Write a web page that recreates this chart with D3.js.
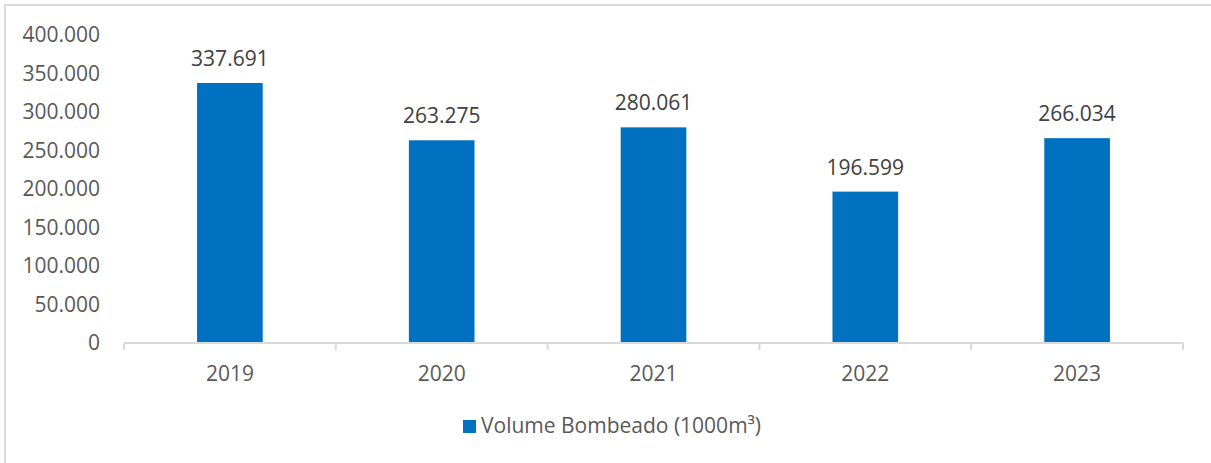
<!DOCTYPE html>
<html>
<head>
<meta charset="utf-8">
<script src="https://cdn.jsdelivr.net/npm/d3@7"></script>
<style>
  body { margin: 0; background: #fff; }
  svg text { font-family: 'Open Sans', sans-serif; }
</style>
</head>
<body>
<div id="graf"></div>
<script>
// I. Datos
anos = ['2019', '2020', '2021', '2022', '2023']
volume = [337691, 263275, 280061, 196599, 266034]
yTicks = [0, 50000, 100000, 150000, 200000, 250000, 300000, 350000, 400000]
serie = 'Volume Bombeado (1000m³)'

data = anos.map((a, i) => ({ ano: a, valor: volume[i] }))

// II. Configuración
ancho_total = 1211
alto_total = 463
margins = { top: 35, left: 124, right: 28, bottom: 120 }
ancho = ancho_total - margins.left - margins.right
alto = alto_total - margins.top - margins.bottom

fmt = d => d3.format(',')(d).replace(/,/g, '.')

svg = d3.select('#graf').append('svg')
        .attr('width', ancho_total)
        .attr('height', alto_total)

// borde del gráfico
svg.append('rect')
   .attr('x', 5).attr('y', 5)
   .attr('width', ancho_total + 10).attr('height', alto_total + 10)
   .attr('fill', 'none')
   .attr('stroke', '#d9d9d9')
   .attr('stroke-width', 2)

g = svg.append('g')
       .attr('transform', `translate(${ margins.left }, ${ margins.top })`)

y = d3.scaleLinear()
      .domain([0, 400000])
      .range([alto, 0])

x = d3.scaleBand()
      .domain(anos)
      .range([0, ancho])
      .paddingInner(0.69)
      .paddingOuter(0.345)

xCat = d3.scaleBand().domain(anos).range([0, ancho])

// III. Ejes
yAxisGroup = g.append('g')
  .call(d3.axisLeft(y).tickValues(yTicks).tickFormat(fmt).tickSize(0).tickPadding(24))
yAxisGroup.select('.domain').remove()
yAxisGroup.selectAll('text')
  .style('font-size', '21px')
  .attr('fill', '#595959')

// barras
g.selectAll('rect.val')
  .data(data)
  .enter()
  .append('rect')
    .attr('class', 'val')
    .attr('x', d => x(d.ano))
    .attr('y', d => y(d.valor))
    .attr('width', x.bandwidth())
    .attr('height', d => alto - y(d.valor))
    .attr('fill', '#0070c0')

// eje x con marcas entre categorías
xAxisGroup = g.append('g')
  .attr('transform', `translate(0, ${ alto })`)
xAxisGroup.append('line')
  .attr('x1', 0).attr('x2', ancho)
  .attr('stroke', '#d9d9d9').attr('stroke-width', 2)
xAxisGroup.selectAll('line.tick')
  .data(anos.concat(['fin']))
  .enter()
  .append('line')
    .attr('class', 'tick')
    .attr('x1', d => d == 'fin' ? ancho : xCat(d))
    .attr('x2', d => d == 'fin' ? ancho : xCat(d))
    .attr('y1', 0).attr('y2', 7)
    .attr('stroke', '#d9d9d9').attr('stroke-width', 2)
xAxisGroup.selectAll('text')
  .data(anos)
  .enter()
  .append('text')
    .attr('x', d => xCat(d) + xCat.bandwidth() / 2)
    .attr('y', 38)
    .attr('text-anchor', 'middle')
    .style('font-size', '21px')
    .attr('fill', '#595959')
    .text(d => d)

// etiquetas de valores
g.selectAll('text.etiqueta')
  .data(data)
  .enter()
  .append('text')
    .attr('class', 'etiqueta')
    .attr('x', d => x(d.ano) + x.bandwidth() / 2)
    .attr('y', d => y(d.valor) - 17)
    .attr('text-anchor', 'middle')
    .style('font-size', '21px')
    .attr('fill', '#404040')
    .text(d => fmt(d.valor))

// leyenda
leyenda = svg.append('g')
  .attr('transform', 'translate(463, 420)')
leyenda.append('rect')
  .attr('width', 13).attr('height', 13)
  .attr('fill', '#0070c0')
leyenda.append('text')
  .attr('x', 18).attr('y', 13)
  .style('font-size', '21px')
  .attr('fill', '#595959')
  .text(serie)
</script>
</body>
</html>
